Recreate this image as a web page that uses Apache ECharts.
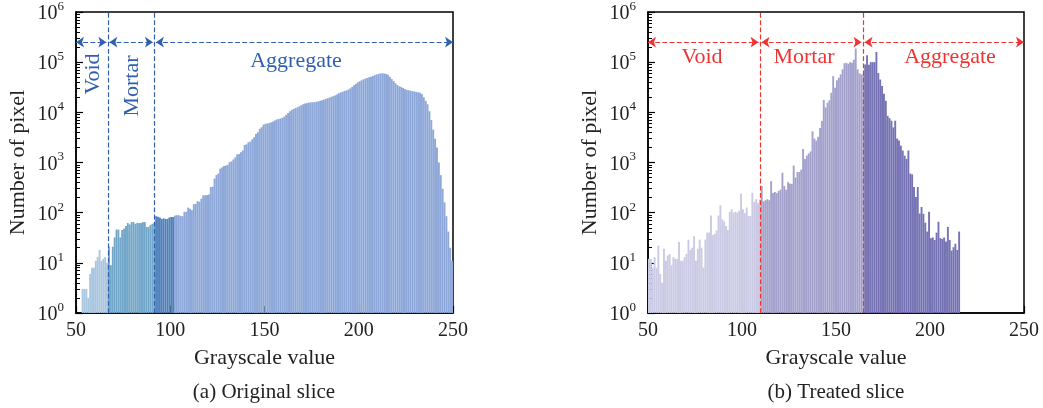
<!DOCTYPE html>
<html>
<head>
<meta charset="utf-8">
<script src="https://cdn.jsdelivr.net/npm/echarts@6/dist/echarts.min.js"></script>
<style>
  html, body { margin: 0; padding: 0; background: #fff; }
  #chart { width: 1043px; height: 408px; }
</style>
</head>
<body>
<div id="chart"></div>
<script>
// (a) original slice: pixel counts per grayscale bin, starting at bin 53
const leftVoidStart = 53;
const leftVoid = [3, 3, 3, 2, 6, 8, 8, 11, 13, 18, 11, 12, 13, 10];
const leftMortarStart = 67;
const leftMortar = [21, 9, 21, 32, 46, 46, 32, 45, 48, 54, 62, 58, 65, 65, 60, 62, 62, 62, 65, 65, 52, 52, 57, 60, 62];
const leftAggStart = 92;
const leftAgg = [
  85, 83, 80, 75, 77, 75, 75, 80, 82, 82,
  88, 89, 89, 86, 85, 104, 104, 126, 120, 112,
  148, 150, 170, 165, 190, 222, 222, 225, 230, 325,
  330, 476, 560, 600, 755, 800, 850, 870, 900, 1020,
  1050, 1150, 1270, 1450, 1480, 1600, 1740, 2240, 2300, 2530,
  2600, 2900, 3190, 3700, 4000, 4700, 5050, 5700, 5900, 6000,
  6100, 6300, 6600, 6900, 7200, 7400, 7500, 7800, 8200, 8900,
  9700, 10500, 11200, 11700, 12200, 12600, 13200, 13800, 14500, 15000,
  15300, 15600, 15800, 15900, 16000, 16200, 16500, 17000, 17400, 18000,
  18500, 19000, 19700, 20400, 21000, 21800, 22800, 24000, 25000, 25800,
  26600, 27300, 28500, 30000, 32000, 34500, 37000, 39600, 41500, 43500,
  45500, 47000, 48500, 50000, 51000, 53000, 55000, 57000, 58500, 59500,
  60000, 59500, 58000, 56000, 51000, 46000, 42000, 38000, 35000, 33000,
  32000, 30500, 29000, 28000, 27500, 27000, 26500, 26000, 25500, 25000,
  24500, 23000, 20000, 17000, 14500, 10500, 7000, 4500, 3000, 2000,
  1000, 560, 300, 160, 85, 42, 20, 11
];
const leftDarkBins = 10; // first aggregate bins drawn in the darker blue
const leftBounds = [66.9, 91.6];

// (b) treated slice
const rightVoidStart = 50;
const rightVoid = [
  12, 12, 8, 13, 8, 22, 6, 4, 19, 11,
  14, 15, 9, 13, 12, 12, 26, 11, 11, 13,
  15, 29, 18, 20, 34, 11, 19, 29, 20, 8,
  29, 40, 40, 88, 36, 38, 44, 88, 140, 74,
  67, 54, 45, 104, 117, 100, 104, 100, 109, 240,
  117, 98, 126, 86, 86, 250, 164, 185, 156, 183
];
const rightMortarStart = 110;
const rightMortar = [
  340, 168, 177, 185, 177, 425, 246, 258, 246, 270,
  288, 625, 340, 288, 405, 380, 375, 870, 500, 645,
  645, 720, 1860, 1180, 1375, 1520, 1660, 4170, 3000, 2740,
  3250, 4850, 6750, 17700, 12500, 15500, 17400, 24600, 52600, 31000,
  43500, 49000, 57000, 72000, 95000, 97000, 93000, 100000, 97000, 112000,
  187000, 72000, 60000, 57000, 57000
];
const rightAggStart = 165;
const rightAgg = [
  90000, 138000, 89000, 100000, 100000, 100000, 160000, 61000, 45000, 33500,
  23500, 17000, 8500, 7650, 6800, 5000, 6800, 3000, 2750, 2170,
  1730, 1370, 1180, 1730, 600, 580, 325, 205, 325, 96,
  130, 95, 63, 42, 104, 31, 32, 28.5, 40, 66,
  31, 30, 32, 26.5, 52, 28.5, 17.5, 20.5, 24, 18,
  42
];
const rightBounds = [109.6, 164.4];

const xTicks = [50, 250, 50]; // min, max, interval
const arrowY = 2.5e5;

const FONT = '"Liberation Serif", "Times New Roman", serif';
const BLUE = '#2f5fae';
const RED = '#ee3333';

function bars(start, counts) {
  return counts.map((v, i) => [start + i + 0.5, v]);
}

function barSeries(idx, data, color) {
  return {
    type: 'bar',
    xAxisIndex: idx,
    yAxisIndex: idx,
    data: data,
    barWidth: 1.9,
    barGap: '-100%',
    itemStyle: { color: color },
    silent: true
  };
}

function annotLines(bounds, color) {
  const g = 0.8;
  return {
    silent: true,
    symbol: ['arrow', 'arrow'],
    symbolSize: 8,
    label: { show: false },
    lineStyle: { type: 'dashed', color: color, width: 1.2 },
    data: [
      [{ coord: [xTicks[0], arrowY] }, { coord: [bounds[0] - g, arrowY] }],
      [{ coord: [bounds[0] + g, arrowY] }, { coord: [bounds[1] - g, arrowY] }],
      [{ coord: [bounds[1] + g, arrowY] }, { coord: [xTicks[1], arrowY] }]
    ]
  };
}

function vLines(bounds, color) {
  return {
    silent: true,
    symbol: ['none', 'none'],
    label: { show: false },
    lineStyle: { type: 'dashed', color: color, width: 1.2 },
    data: bounds.map(b => ({ xAxis: b }))
  };
}

function xAxis(idx) {
  return {
    type: 'value',
    gridIndex: idx,
    min: xTicks[0],
    max: xTicks[1],
    interval: xTicks[2],
    name: 'Grayscale value',
    nameLocation: 'middle',
    nameGap: 34,
    nameTextStyle: { fontFamily: FONT, fontSize: 22, color: '#222' },
    axisLine: { lineStyle: { color: '#000', width: 1.5 } },
    axisTick: { inside: true, length: 7, lineStyle: { color: '#000', width: 1.2 } },
    axisLabel: { fontFamily: FONT, fontSize: 20, color: '#222', margin: 8 },
    splitLine: { show: false }
  };
}

function yAxis(idx) {
  return {
    type: 'log',
    logBase: 10,
    gridIndex: idx,
    min: 1,
    max: 1e6,
    splitNumber: 6,
    name: 'Number of pixel',
    nameLocation: 'middle',
    nameRotate: 90,
    nameGap: 47,
    nameTextStyle: { fontFamily: FONT, fontSize: 22, color: '#222' },
    axisLine: { lineStyle: { color: '#000', width: 1.5 } },
    axisTick: { inside: true, length: 7, lineStyle: { color: '#000', width: 1.2 } },
    minorTick: { show: true, splitNumber: 9, length: 4, lineStyle: { color: '#000', width: 1 } },
    axisLabel: {
      margin: 12,
      formatter: function (v) {
        return '{b|10}{s|' + Math.round(Math.log10(v)) + '}';
      },
      rich: {
        b: { fontFamily: FONT, fontSize: 20, color: '#222', lineHeight: 24, verticalAlign: 'bottom' },
        s: { fontFamily: FONT, fontSize: 13, color: '#222', lineHeight: 13, verticalAlign: 'top' }
      }
    },
    splitLine: { show: false },
    minorSplitLine: { show: false }
  };
}

function label(text, x, y, color, rotate) {
  return {
    type: 'text',
    x: x,
    y: y,
    z: 10,
    rotation: rotate ? Math.PI / 2 : 0,
    style: {
      text: text,
      fill: color,
      font: '22px ' + FONT,
      align: 'center',
      verticalAlign: 'middle',
      textAlign: 'center',
      textVerticalAlign: 'middle'
    }
  };
}

const chart = echarts.init(document.getElementById('chart'), null, { renderer: 'canvas' });

const leftAggDarkSeries = barSeries(0, bars(leftAggStart, leftAgg.slice(0, leftDarkBins)), '#5282bb');
const leftAggSeries = barSeries(0, bars(leftAggStart + leftDarkBins, leftAgg.slice(leftDarkBins)), '#8ca7d8');
const leftVoidSeries = barSeries(0, bars(leftVoidStart, leftVoid), '#a9c6df');
leftVoidSeries.markLine = vLines(leftBounds, BLUE);
leftAggSeries.markLine = annotLines(leftBounds, BLUE);

const rightVoidSeries = barSeries(1, bars(rightVoidStart, rightVoid), '#cbcae4');
const rightMortarSeries = barSeries(1, bars(rightMortarStart, rightMortar), '#a4a2cd');
const rightAggSeries = barSeries(1, bars(rightAggStart, rightAgg), '#7573b3');
rightVoidSeries.markLine = vLines(rightBounds, RED);
rightAggSeries.markLine = annotLines(rightBounds, RED);

chart.setOption({
  animation: false,
  backgroundColor: '#fff',
  grid: [
    { left: 76, top: 12, width: 377, height: 301, show: true, borderColor: '#000', borderWidth: 1.5 },
    { left: 648, top: 12, width: 376, height: 301, show: true, borderColor: '#000', borderWidth: 1.5 }
  ],
  xAxis: [xAxis(0), xAxis(1)],
  yAxis: [yAxis(0), yAxis(1)],
  series: [
    leftVoidSeries,
    barSeries(0, bars(leftMortarStart, leftMortar), '#72a7c9'),
    leftAggDarkSeries,
    leftAggSeries,
    rightVoidSeries,
    rightMortarSeries,
    rightAggSeries
  ],
  graphic: [
    label('Void', 93, 74, BLUE, true),
    label('Mortar', 132, 86, BLUE, true),
    label('Aggregate', 296, 61, BLUE, false),
    label('Void', 702, 57, RED, false),
    label('Mortar', 804, 57, RED, false),
    label('Aggregate', 950, 57, RED, false),
    {
      type: 'text', x: 264, y: 392,
      style: { text: '(a) Original slice', fill: '#222', font: '21px ' + FONT,
        align: 'center', verticalAlign: 'middle', textAlign: 'center', textVerticalAlign: 'middle' }
    },
    {
      type: 'text', x: 836, y: 392,
      style: { text: '(b) Treated slice', fill: '#222', font: '21px ' + FONT,
        align: 'center', verticalAlign: 'middle', textAlign: 'center', textVerticalAlign: 'middle' }
    }
  ]
});
</script>
</body>
</html>
